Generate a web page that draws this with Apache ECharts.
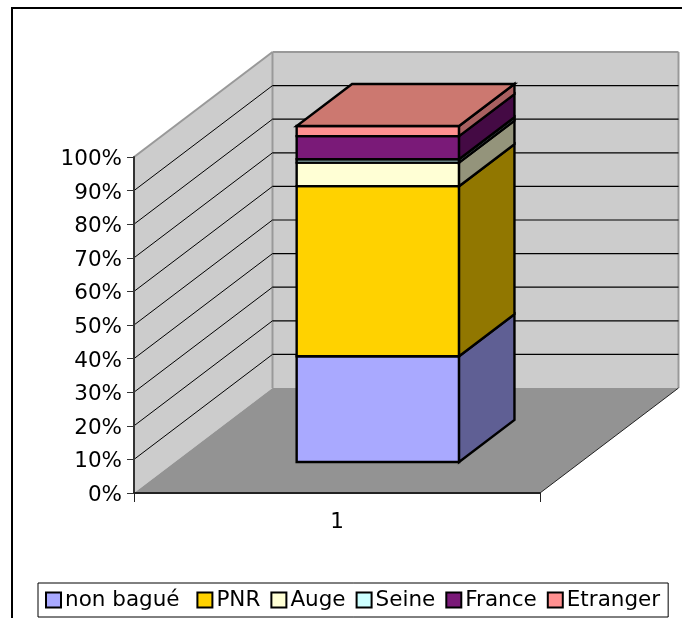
<!DOCTYPE html>
<html>
<head>
<meta charset="utf-8">
<style>
html, body { margin: 0; padding: 0; background: #fff; }
#main { width: 682px; height: 618px; }
</style>
<script src="https://cdn.jsdelivr.net/npm/echarts@6/dist/echarts.min.js"></script>
</head>
<body>
<div id="main"></div>
<script>
var categories = ['1'];
var seriesNames = ['non bagué', 'PNR', 'Auge', 'Seine', 'France', 'Etranger'];
var seriesValues = [31.5, 50.6, 7, 1, 6.9, 3];
var gridTicks = [10, 20, 30, 40, 50, 60, 70, 80, 90, 100];

var frontColors = ['#A9A9FF', '#FFD200', '#FFFFD5', '#CCFFFF', '#7A1A78', '#FF9090'];
var sideColors = ['#5F5F94', '#917700', '#94947B', '#7B9494', '#440A44', '#A86060'];
var topColor = '#CC7870';

// oblique projection of the 3d box, in pixels
var depthX = 138.5;
var depthY = 105;
var barWidthRatio = 0.4;
var barFrontDepth = 0.295;
var barBackDepth = 0.695;
var fontName = '"DejaVu Sans", Verdana, sans-serif';
var fontSize = 21.5;

var myChart = echarts.init(document.getElementById('main'));

function poly(points, fill, stroke, lineWidth) {
    return {
        type: 'polygon',
        shape: { points: points },
        style: { fill: fill, stroke: stroke || null, lineWidth: lineWidth || 0 }
    };
}

function seg(a, b, stroke, lineWidth) {
    return {
        type: 'line',
        shape: { x1: a[0], y1: a[1], x2: b[0], y2: b[1] },
        style: { stroke: stroke, lineWidth: lineWidth, fill: null }
    };
}

// walls and floor
function renderWalls(params, api) {
    var cs = params.coordSys;
    var x0 = cs.x, x1 = cs.x + cs.width;
    var y0 = cs.y + cs.height, yTop = api.coord([0, 100])[1];
    return {
        type: 'group',
        children: [
            poly([[x0, y0], [x0 + depthX, y0 - depthY], [x0 + depthX, yTop - depthY], [x0, yTop]], '#CCCCCC'),
            poly([[x0 + depthX, y0 - depthY], [x1 + depthX, y0 - depthY], [x1 + depthX, yTop - depthY], [x0 + depthX, yTop - depthY]], '#CCCCCC'),
            poly([[x0, y0], [x1, y0], [x1 + depthX, y0 - depthY], [x0 + depthX, y0 - depthY]], '#939393'),
            seg([x0, yTop], [x0 + depthX, yTop - depthY], '#999999', 2),
            seg([x0 + depthX, yTop - depthY], [x1 + depthX, yTop - depthY], '#999999', 2),
            seg([x0 + depthX, yTop - depthY], [x0 + depthX, y0 - depthY], '#999999', 2),
            seg([x1 + depthX, yTop - depthY], [x1 + depthX, y0 - depthY], '#999999', 2),
            seg([x1, y0], [x1 + depthX, y0 - depthY], '#222222', 1)
        ]
    };
}

function renderGridline(params, api) {
    var cs = params.coordSys;
    var y = api.coord([0, api.value(1)])[1];
    if (api.value(1) === 100) {
        return null;
    }
    return {
        type: 'group',
        children: [
            seg([cs.x, y], [cs.x + depthX, y - depthY], '#000', 1),
            seg([cs.x + depthX, y - depthY], [cs.x + cs.width + depthX, y - depthY], '#000', 1.2)
        ]
    };
}

function makeRenderBar(index) {
    return function (params, api) {
        var center = api.coord([api.value(0), 0])[0];
        var w = api.size([1, 0])[0] * barWidthRatio;
        var left = center - w / 2 + depthX * barFrontDepth;
        var right = left + w;
        var shiftY = depthY * barFrontDepth;
        var bottom = api.coord([0, api.value(1)])[1] - shiftY;
        var top = api.coord([0, api.value(2)])[1] - shiftY;
        var sideX = depthX * (barBackDepth - barFrontDepth);
        var sideY = depthY * (barBackDepth - barFrontDepth);
        var children = [
            poly([[left, bottom], [right, bottom], [right, top], [left, top]], frontColors[index], '#000', 2.4),
            poly([[right, bottom], [right + sideX, bottom - sideY], [right + sideX, top - sideY], [right, top]], sideColors[index], '#000', 2.4)
        ];
        if (index === seriesValues.length - 1) {
            children.push(poly([[left, top], [right, top], [right + sideX, top - sideY], [left + sideX, top - sideY]], topColor, '#000', 2.4));
        }
        return { type: 'group', children: children };
    };
}

var series = [
    { name: 'walls', type: 'custom', renderItem: renderWalls, data: [[0, 100]], silent: true },
    {
        name: 'gridlines',
        type: 'custom',
        renderItem: renderGridline,
        data: gridTicks.map(function (t) { return [0, t]; }),
        silent: true
    }
];

var sum = 0;
for (var i = 0; i < seriesNames.length; i++) {
    series.push({
        name: seriesNames[i],
        type: 'custom',
        renderItem: makeRenderBar(i),
        itemStyle: { color: frontColors[i] },
        encode: { x: 0, y: [1, 2] },
        data: [[0, sum, sum + seriesValues[i]]]
    });
    sum += seriesValues[i];
}

var option = {
    animation: false,
    backgroundColor: '#fff',
    textStyle: { fontFamily: fontName },
    grid: { left: 134, top: 157, width: 406, height: 336 },
    legend: {
        data: seriesNames,
        left: 38,
        top: 583,
        orient: 'horizontal',
        icon: 'rect',
        itemWidth: 15,
        itemHeight: 15,
        itemGap: 10,
        padding: [6, 8, 6, 7],
        selectedMode: false,
        backgroundColor: '#fff',
        borderColor: '#000',
        borderWidth: 1,
        itemStyle: { borderColor: '#000', borderWidth: 2 },
        textStyle: { fontFamily: fontName, fontSize: fontSize, color: '#000', padding: [2, 0, 0, -1] },
        formatter: function (name) {
            return name === seriesNames[0] ? name + '\u00a0' : name;
        }
    },
    xAxis: {
        type: 'category',
        data: categories,
        z: 5,
        axisLine: { lineStyle: { color: '#222', width: 2 } },
        axisTick: { show: true, length: 9, lineStyle: { color: '#222', width: 1 } },
        axisLabel: { color: '#000', fontSize: fontSize, fontFamily: fontName, margin: 18 }
    },
    yAxis: {
        type: 'value',
        min: 0,
        max: 100,
        interval: 10,
        z: 5,
        axisLine: { show: true, onZero: false, lineStyle: { color: '#333', width: 2 } },
        axisTick: { show: true, length: 7, lineStyle: { color: '#333', width: 1 } },
        splitLine: { show: false },
        axisLabel: {
            margin: 12,
            formatter: function (value) {
                return '{v|' + value + '%}';
            },
            rich: {
                v: { color: '#000', fontSize: fontSize, fontFamily: fontName, padding: [5, 0, 0, 0] }
            }
        }
    },
    // frame of the chart area, open on the right and at the bottom
    graphic: [{
        type: 'polyline',
        shape: { points: [[12, 618], [12, 8], [682, 8]] },
        style: { stroke: '#000', lineWidth: 2, fill: null }
    }],
    series: series
};

myChart.setOption(option);
</script>
</body>
</html>
